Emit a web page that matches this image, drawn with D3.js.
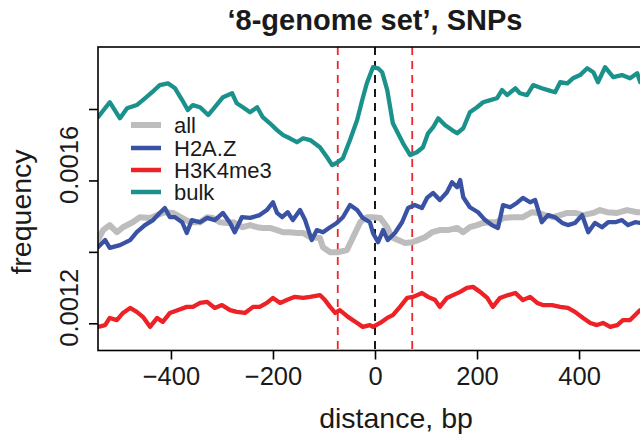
<!DOCTYPE html>
<html><head><meta charset="utf-8">
<script src="https://cdn.jsdelivr.net/npm/d3@7"></script>
<style>
html,body{margin:0;padding:0;background:#fff;}
svg{display:block;}
text{font-family:"Liberation Sans",Arial,Helvetica,sans-serif;fill:#1a1a1a;}
</style></head>
<body>
<svg id="chart" width="640" height="442"></svg>
<script>
const title = "\u20188-genome set\u2019, SNPs";
const xLabel = "distance, bp";
const yLabel = "frequency";
const seriesNames = ["all", "H2A.Z", "H3K4me3", "bulk"];
const seriesColors = ["#bdbdbd", "#3a52a3", "#ec2227", "#1b918b"];
const xTicks = [-400, -200, 0, 200, 400];
const yTicks = [0.0012, 0.0014, 0.0016, 0.0018];
const yTickLabels = ["0.0012", "", "0.0016", ""];
const markerLines = [-73, 0, 73];

const allPos = [-543,-533,-520,-506,-494,-475,-461,-441,-427,-412,-396,-378,-363,-343,-329,-318,-304,-290,-278,-259,-245,-231,-220,-206,-192,-180,-167,-153,-141,-127,-108,-102,-88,-73,-55,-43,-29,-16,-4,10,24,33,45,59,73,84,98,112,127,143,161,173,186,200,212,226,239,251,271,290,308,320,333,349,363,377,392,408,428,441,455,475,494,514,545];
const allVal = [0.001433,0.001461,0.001475,0.001455,0.001469,0.001483,0.001497,0.001495,0.001503,0.001511,0.001509,0.001495,0.001483,0.001483,0.001497,0.001495,0.001483,0.001481,0.001483,0.001469,0.001475,0.001469,0.001467,0.001467,0.001461,0.001455,0.001455,0.001453,0.001453,0.001441,0.001439,0.001413,0.001399,0.001399,0.001405,0.001441,0.001483,0.001497,0.001497,0.001495,0.001469,0.001441,0.001433,0.001425,0.001427,0.001433,0.001441,0.001455,0.001461,0.001461,0.001467,0.001455,0.001469,0.001475,0.001481,0.001483,0.001483,0.001495,0.001497,0.001497,0.001511,0.001509,0.001503,0.001497,0.001503,0.001509,0.001509,0.001503,0.001509,0.001517,0.001511,0.001509,0.001517,0.001511,0.001511];

const h2azPos = [-543,-529,-520,-500,-480,-467,-451,-435,-422,-412,-402,-392,-378,-369,-359,-343,-329,-314,-298,-284,-275,-261,-245,-226,-212,-200,-192,-182,-171,-161,-147,-137,-124,-114,-102,-88,-75,-63,-49,-35,-24,-10,-4,6,16,25,39,53,65,78,92,102,114,127,141,151,161,167,173,186,202,216,229,241,251,265,278,290,304,314,327,339,353,367,378,392,406,418,431,445,457,471,484,496,510,520,545];
const h2azVal = [0.001413,0.001433,0.001411,0.001419,0.001433,0.001455,0.001475,0.001489,0.001509,0.001523,0.001497,0.001497,0.001483,0.001453,0.001489,0.001483,0.001495,0.001489,0.001509,0.001481,0.001455,0.001497,0.001495,0.001503,0.001517,0.001539,0.001509,0.001497,0.001511,0.001489,0.001517,0.001489,0.001433,0.001461,0.001455,0.001469,0.001481,0.001497,0.001531,0.001517,0.001495,0.001483,0.001453,0.001427,0.001461,0.001433,0.001453,0.001483,0.001523,0.001531,0.001523,0.001551,0.001565,0.001545,0.001567,0.001595,0.001581,0.001601,0.001553,0.001525,0.001511,0.001489,0.001475,0.001467,0.001531,0.001525,0.001537,0.001551,0.001539,0.001545,0.001483,0.001503,0.001497,0.001481,0.001475,0.001481,0.001503,0.001455,0.001481,0.001469,0.001483,0.001483,0.001489,0.001475,0.001483,0.001481,0.001483];

const h3k4Pos = [-543,-529,-520,-506,-494,-480,-467,-455,-441,-427,-416,-402,-386,-369,-357,-343,-329,-314,-300,-284,-271,-255,-239,-226,-212,-200,-186,-173,-157,-141,-127,-108,-98,-88,-78,-69,-53,-35,-24,-10,-4,10,24,35,49,63,75,92,104,118,127,141,153,167,180,192,206,220,231,245,261,275,290,304,318,329,347,363,378,392,408,422,435,447,461,475,486,500,514,520,545];
const h3k4Val = [0.001190,0.001195,0.001215,0.001209,0.001229,0.001243,0.001232,0.001218,0.001190,0.001215,0.001204,0.001229,0.001237,0.001246,0.001246,0.001257,0.001260,0.001243,0.001251,0.001237,0.001232,0.001229,0.001246,0.001246,0.001257,0.001271,0.001257,0.001265,0.001274,0.001271,0.001274,0.001279,0.001265,0.001246,0.001229,0.001237,0.001218,0.001201,0.001190,0.001195,0.001190,0.001201,0.001215,0.001223,0.001246,0.001271,0.001274,0.001285,0.001274,0.001265,0.001246,0.001271,0.001279,0.001288,0.001299,0.001302,0.001288,0.001271,0.001246,0.001271,0.001279,0.001285,0.001265,0.001274,0.001257,0.001251,0.001251,0.001246,0.001243,0.001232,0.001215,0.001201,0.001195,0.001201,0.001190,0.001195,0.001209,0.001209,0.001229,0.001237,0.001246];

const bulkPos = [-543,-520,-500,-486,-467,-451,-437,-422,-406,-392,-378,-367,-357,-343,-327,-314,-298,-280,-271,-259,-245,-231,-220,-206,-192,-180,-167,-153,-141,-127,-108,-94,-84,-73,-63,-49,-35,-25,-16,-4,6,14,24,35,45,55,69,82,94,104,114,124,137,151,161,173,186,200,212,226,239,249,259,275,284,298,310,327,339,353,363,377,388,402,416,428,437,451,467,484,500,514,520,545];
const bulkVal = [0.001777,0.001819,0.001774,0.001802,0.001811,0.001830,0.001847,0.001867,0.001872,0.001858,0.001825,0.001797,0.001811,0.001805,0.001783,0.001805,0.001833,0.001844,0.001816,0.001805,0.001791,0.001805,0.001777,0.001760,0.001741,0.001727,0.001718,0.001707,0.001718,0.001713,0.001693,0.001665,0.001643,0.001651,0.001662,0.001713,0.001769,0.001825,0.001872,0.001917,0.001914,0.001903,0.001853,0.001760,0.001732,0.001704,0.001671,0.001679,0.001693,0.001732,0.001749,0.001774,0.001755,0.001741,0.001732,0.001746,0.001791,0.001805,0.001819,0.001825,0.001830,0.001853,0.001839,0.001858,0.001844,0.001839,0.001867,0.001858,0.001853,0.001847,0.001875,0.001872,0.001886,0.001895,0.001914,0.001903,0.001875,0.001917,0.001889,0.001895,0.001886,0.001900,0.001875,0.001880];

const seriesPos = [allPos, h2azPos, h3k4Pos, bulkPos];
const seriesVal = [allVal, h2azVal, h3k4Val, bulkVal];
const seriesWidth = [6, 4.3, 4.3, 4.3];

const svg = d3.select("#chart");
const plotLeft = 98, plotTop = 47, plotBottom = 350.5, plotRight = 652;

const x = d3.scaleLinear().domain([-543, 543]).range([plotLeft, plotRight]);
const y = d3.scaleLinear().domain([0.0012, 0.0018]).range([323.3, 109]);

svg.append("defs").append("clipPath").attr("id", "clip")
  .append("rect").attr("x", plotLeft).attr("y", plotTop)
  .attr("width", plotRight - plotLeft).attr("height", plotBottom - plotTop);

const plot = svg.append("g").attr("clip-path", "url(#clip)");

plot.selectAll("line.marker").data(markerLines).enter().append("line")
  .attr("x1", d => x(d)).attr("x2", d => x(d))
  .attr("y1", plotTop).attr("y2", plotBottom)
  .attr("stroke", d => d === 0 ? "#000" : "#e8262b")
  .attr("stroke-width", 1.8)
  .attr("stroke-dasharray", "8,6");

const line = d3.line().x(d => x(d[0])).y(d => y(d[1])).curve(d3.curveLinear);
seriesPos.forEach((pos, i) => {
  const pts = pos.map((p, j) => [p, seriesVal[i][j]]);
  plot.append("path").datum(pts)
    .attr("d", line)
    .attr("fill", "none")
    .attr("stroke", seriesColors[i])
    .attr("stroke-width", seriesWidth[i])
    .attr("stroke-linejoin", "round")
    .attr("stroke-linecap", "round");
});

svg.append("rect").attr("x", plotLeft).attr("y", plotTop)
  .attr("width", plotRight - plotLeft).attr("height", plotBottom - plotTop)
  .attr("fill", "none").attr("stroke", "#000").attr("stroke-width", 1.6);

const xAxis = d3.axisBottom(x).tickValues(xTicks).tickSize(9).tickPadding(4)
  .tickFormat(d => d < 0 ? "\u2212" + Math.abs(d) : String(d));
const gx = svg.append("g").attr("transform", `translate(0,${plotBottom})`).call(xAxis);
gx.select(".domain").remove();
gx.selectAll(".tick line").attr("stroke", "#000").attr("stroke-width", 1.6);
gx.selectAll(".tick text").attr("font-size", 25.5).attr("fill", "#1a1a1a")
  .attr("dy", null).attr("y", 34.5)
  .style("font-family", '"Liberation Sans",Arial,sans-serif');

const yAxis = d3.axisLeft(y).tickValues(yTicks).tickSize(9)
  .tickFormat((d, i) => yTickLabels[i]);
const gy = svg.append("g").attr("transform", `translate(${plotLeft},0)`).call(yAxis);
gy.select(".domain").remove();
gy.selectAll(".tick line").attr("stroke", "#000").attr("stroke-width", 1.6);
gy.selectAll(".tick text")
  .attr("font-size", 25.5).attr("fill", "#1a1a1a")
  .attr("x", null).attr("dy", null)
  .attr("text-anchor", "middle")
  .attr("transform", "translate(-20,-16) rotate(-90)")
  .style("font-family", '"Liberation Sans",Arial,sans-serif');

svg.append("text").attr("x", 375).attr("y", 30).attr("text-anchor", "middle")
  .attr("font-size", 29).attr("font-weight", "bold").text(title);
svg.append("text").attr("x", 396).attr("y", 428).attr("text-anchor", "middle")
  .attr("font-size", 28.5).text(xLabel);
svg.append("text").attr("transform", "translate(31,212) rotate(-90)")
  .attr("text-anchor", "middle").attr("font-size", 28.5).text(yLabel);

const legY = [125, 148, 170, 192];
const leg = svg.append("g");
seriesNames.forEach((name, i) => {
  leg.append("line").attr("x1", 131).attr("x2", 161)
    .attr("y1", legY[i]).attr("y2", legY[i])
    .attr("stroke", seriesColors[i]).attr("stroke-width", i === 0 ? 6 : 4.5);
  leg.append("text").attr("x", 174).attr("y", legY[i] + 8)
    .attr("font-size", 22).text(name);
});
</script>
</body></html>
